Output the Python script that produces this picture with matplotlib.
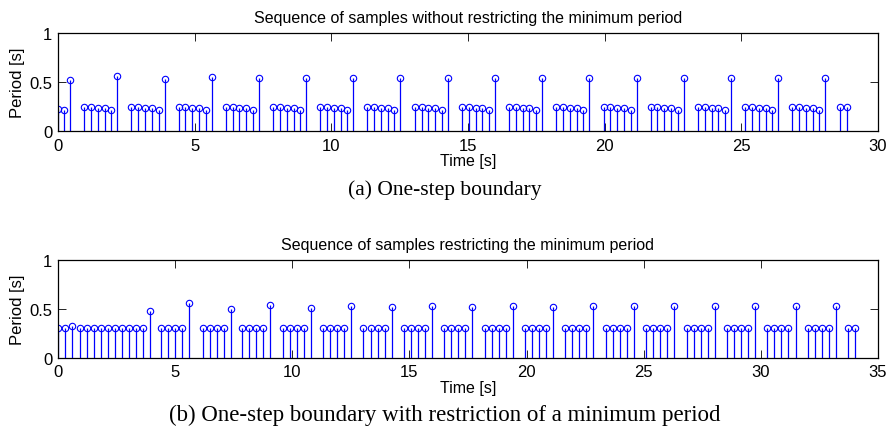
import numpy as np
import matplotlib.pyplot as plt

# (a) one-step boundary: sample instants and periods
time_a = [0.00, 0.22, 0.44,
          0.96, 1.21, 1.46, 1.71, 1.95, 2.17,
          2.69, 2.94, 3.19, 3.44, 3.68, 3.90,
          4.41, 4.66, 4.91, 5.16, 5.40, 5.62,
          6.14, 6.39, 6.64, 6.89, 7.13, 7.35,
          7.87, 8.12, 8.37, 8.62, 8.86, 9.08,
          9.59, 9.84, 10.09, 10.34, 10.58, 10.80,
          11.32, 11.57, 11.82, 12.07, 12.31, 12.53,
          13.05, 13.30, 13.55, 13.80, 14.04, 14.26,
          14.78, 15.03, 15.28, 15.53, 15.77, 15.99,
          16.50, 16.75, 17.00, 17.25, 17.49, 17.71,
          18.23, 18.48, 18.73, 18.98, 19.22, 19.44,
          19.96, 20.21, 20.46, 20.71, 20.95, 21.17,
          21.68, 21.93, 22.18, 22.43, 22.67, 22.89,
          23.41, 23.66, 23.91, 24.16, 24.40, 24.62,
          25.14, 25.39, 25.64, 25.89, 26.13, 26.35,
          26.87, 27.12, 27.37, 27.62, 27.86, 28.08,
          28.62, 28.87]
period_a = [0.225, 0.215, 0.52,
            0.25, 0.245, 0.24, 0.235, 0.22, 0.56,
            0.25, 0.245, 0.24, 0.235, 0.22, 0.535,
            0.25, 0.245, 0.24, 0.235, 0.22, 0.55,
            0.25, 0.245, 0.24, 0.235, 0.22, 0.54,
            0.25, 0.245, 0.24, 0.235, 0.22, 0.545,
            0.25, 0.245, 0.24, 0.235, 0.22, 0.54,
            0.25, 0.245, 0.24, 0.235, 0.22, 0.545,
            0.25, 0.245, 0.24, 0.235, 0.22, 0.545,
            0.25, 0.245, 0.24, 0.235, 0.22, 0.545,
            0.25, 0.245, 0.24, 0.235, 0.22, 0.545,
            0.25, 0.245, 0.24, 0.235, 0.22, 0.545,
            0.25, 0.245, 0.24, 0.235, 0.22, 0.545,
            0.25, 0.245, 0.24, 0.235, 0.22, 0.545,
            0.25, 0.245, 0.24, 0.235, 0.22, 0.545,
            0.25, 0.245, 0.24, 0.235, 0.22, 0.545,
            0.25, 0.245, 0.24, 0.235, 0.22, 0.545,
            0.25, 0.245]

# (b) with restriction of a minimum period
time_b = [0.00, 0.30, 0.60, 0.93, 1.23, 1.53, 1.83, 2.13, 2.43, 2.73, 3.03, 3.33, 3.63, 3.93,
          4.41, 4.71, 5.01, 5.31, 5.61,
          6.17, 6.47, 6.77, 7.07, 7.37,
          7.86, 8.16, 8.46, 8.76, 9.06,
          9.60, 9.90, 10.20, 10.50, 10.80,
          11.31, 11.61, 11.91, 12.21, 12.51,
          13.04, 13.34, 13.64, 13.94, 14.24,
          14.76, 15.06, 15.36, 15.66, 15.96,
          16.49, 16.79, 17.09, 17.39, 17.69,
          18.21, 18.51, 18.81, 19.11, 19.41,
          19.93, 20.23, 20.53, 20.83, 21.13,
          21.65, 21.95, 22.25, 22.55, 22.85,
          23.38, 23.68, 23.98, 24.28, 24.58,
          25.10, 25.40, 25.70, 26.00, 26.30,
          26.83, 27.13, 27.43, 27.73, 28.03,
          28.55, 28.85, 29.15, 29.45, 29.75,
          30.28, 30.58, 30.88, 31.18, 31.48,
          32.00, 32.30, 32.60, 32.90, 33.20,
          33.73, 34.03]
period_b = [0.30, 0.30, 0.325, 0.30, 0.30, 0.30, 0.30, 0.30, 0.30, 0.30, 0.30, 0.30, 0.30, 0.48,
            0.30, 0.30, 0.30, 0.30, 0.555,
            0.30, 0.30, 0.30, 0.30, 0.495,
            0.30, 0.30, 0.30, 0.30, 0.54,
            0.30, 0.30, 0.30, 0.30, 0.505,
            0.30, 0.30, 0.30, 0.30, 0.53,
            0.30, 0.30, 0.30, 0.30, 0.515,
            0.30, 0.30, 0.30, 0.30, 0.53,
            0.30, 0.30, 0.30, 0.30, 0.515,
            0.30, 0.30, 0.30, 0.30, 0.525,
            0.30, 0.30, 0.30, 0.30, 0.52,
            0.30, 0.30, 0.30, 0.30, 0.525,
            0.30, 0.30, 0.30, 0.30, 0.525,
            0.30, 0.30, 0.30, 0.30, 0.525,
            0.30, 0.30, 0.30, 0.30, 0.525,
            0.30, 0.30, 0.30, 0.30, 0.525,
            0.30, 0.30, 0.30, 0.30, 0.525,
            0.30, 0.30, 0.30, 0.30, 0.525,
            0.30, 0.30]

plt.rcParams['font.family'] = 'Liberation Sans'

fig = plt.figure(figsize=(8.89, 4.35), dpi=100)
ax1 = fig.add_axes([0.0652, 0.6959, 0.9224, 0.2259])
ax2 = fig.add_axes([0.0652, 0.1754, 0.9224, 0.2246])


def stem_panel(ax, t, p, xmax, title):
    markers, stems, base = ax.stem(t, p, linefmt='b-', markerfmt='bo', basefmt=' ')
    markers.set_markerfacecolor('none')
    markers.set_markersize(4.6)
    markers.set_markeredgewidth(0.8)
    stems.set_linewidth(0.9)
    ax.set_xlim(0, xmax)
    ax.set_ylim(0, 1)
    ax.set_xticks(np.arange(0, xmax + 1, 5))
    ax.set_yticks([0, 0.5, 1])
    ax.set_yticklabels(['0', '0.5', '1'])
    ax.tick_params(direction='in', length=5.5, width=0.6, top=True, right=True,
                   labelsize=12)
    ax.tick_params(axis='x', pad=4.5)
    ax.tick_params(axis='y', pad=4)
    for s in ax.spines.values():
        s.set_linewidth(0.9)
    ax.set_title(title, fontsize=11.5, pad=8)
    ax.set_xlabel('Time [s]', fontsize=11.5, labelpad=0.5)
    ax.set_ylabel('Period [s]', fontsize=12, labelpad=3)


stem_panel(ax1, time_a, period_a, 30, 'Sequence of samples without restricting the minimum period')
stem_panel(ax2, time_b, period_b, 35, 'Sequence of samples restricting the minimum period')

fig.text(0.5, 1 - 190 / 435, '(a) One-step boundary', ha='center', va='center',
         family='Liberation Serif', fontsize=15.5)
fig.text(0.5, 1 - 415 / 435, '(b) One-step boundary with restriction of a minimum period',
         ha='center', va='center', family='Liberation Serif', fontsize=16.5)

plt.savefig('out.png', dpi=100)
